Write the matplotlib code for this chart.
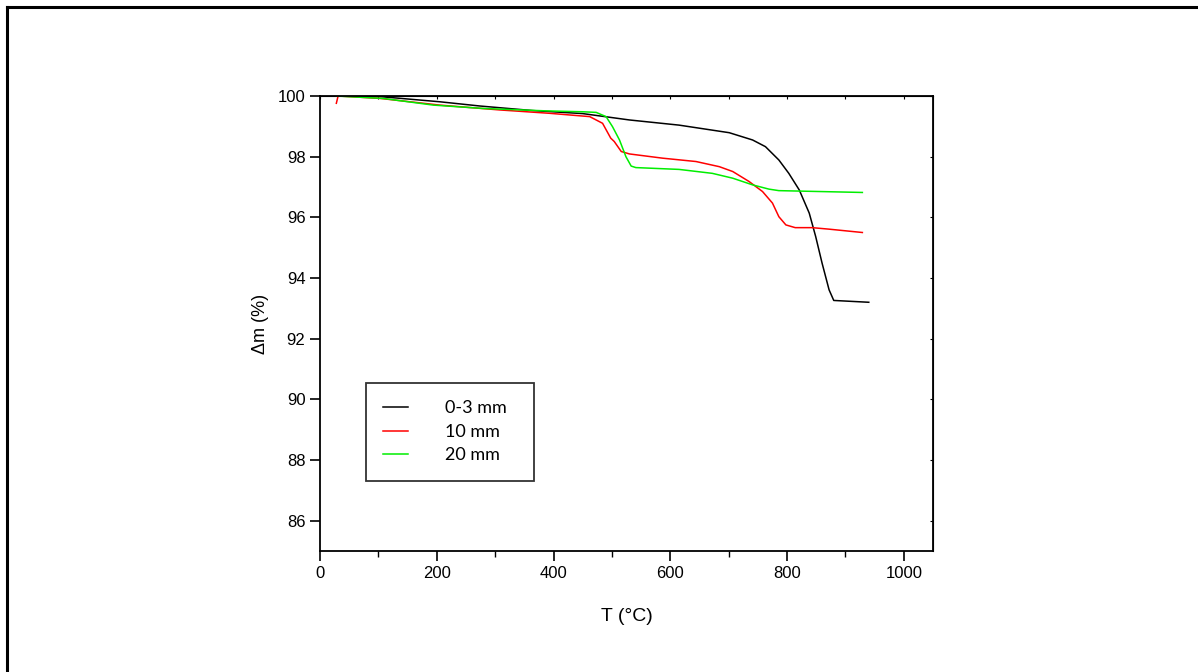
import matplotlib
matplotlib.use("Agg")
import matplotlib.pyplot as plt
from matplotlib.lines import Line2D
from matplotlib.ticker import MultipleLocator

# values (T in degC, mass in %)
t_03 = [28, 103, 205, 274, 364, 450, 530, 615, 701, 741, 763, 786, 803, 821, 838,
        849, 860, 872, 880, 940]
m_03 = [100.0, 99.98, 99.81, 99.67, 99.52, 99.42, 99.21, 99.04, 98.79, 98.55, 98.33,
        97.89, 97.45, 96.90, 96.14, 95.37, 94.49, 93.61, 93.26, 93.20]

t_10 = [28, 31, 50, 103, 205, 308, 393, 462, 484, 498, 504, 516, 530, 587, 644, 684,
        707, 735, 758, 775, 786, 798, 814, 843, 872, 929]
m_10 = [99.76, 100.0, 99.98, 99.92, 99.70, 99.54, 99.43, 99.32, 99.10, 98.61, 98.50,
        98.17, 98.09, 97.95, 97.84, 97.67, 97.51, 97.18, 96.85, 96.47, 96.02, 95.75,
        95.66, 95.66, 95.61, 95.50]

t_20 = [28, 108, 194, 279, 387, 450, 473, 490, 501, 513, 524, 533, 541, 615, 672,
        707, 741, 769, 786, 929]
m_20 = [100.0, 99.92, 99.70, 99.59, 99.51, 99.48, 99.46, 99.32, 98.99, 98.55, 98.00,
        97.69, 97.64, 97.58, 97.45, 97.29, 97.07, 96.93, 96.88, 96.82]

labels = ["0-3 mm", "10 mm", "20 mm"]
colors = ["black", "#ff0000", "#00ee00"]

plt.rcParams["font.family"] = ["Liberation Sans", "DejaVu Sans"]

fig = plt.figure(figsize=(11.98, 6.72), dpi=100)
ax = fig.add_axes([320 / 1198, 1 - 551 / 672, 613 / 1198, 455 / 672])

ax.plot(t_03, m_03, color=colors[0], lw=1.1)
ax.plot(t_10, m_10, color=colors[1], lw=1.1)
ax.plot(t_20, m_20, color=colors[2], lw=1.1)

ax.set_xlim(0, 1050)
ax.set_ylim(85, 100)
ax.xaxis.set_major_locator(MultipleLocator(200))
ax.xaxis.set_minor_locator(MultipleLocator(100))
ax.yaxis.set_major_locator(MultipleLocator(2))
ax.tick_params(axis="both", which="major", direction="out", length=7, width=1.2,
               labelsize=12, top=False, right=False)
ax.tick_params(axis="x", which="minor", direction="out", length=4, width=1)
for s in ax.spines.values():
    s.set_linewidth(1.3)

# tiny ticks on top and right spines
sec_x = ax.secondary_xaxis("top")
sec_x.xaxis.set_major_locator(MultipleLocator(100))
sec_x.tick_params(direction="in", length=2, labeltop=False)
sec_y = ax.secondary_yaxis("right")
sec_y.yaxis.set_major_locator(MultipleLocator(2))
sec_y.tick_params(direction="in", length=2, labelright=False)

ax.set_xlabel("T (°C)", fontsize=14, labelpad=20)
ax.set_ylabel("\u0394m (%)", fontsize=13, labelpad=6)

handles = [Line2D([], [], color=c, lw=1.1) for c in colors]
leg = ax.legend(handles, labels, loc="upper left", bbox_to_anchor=(0.075, 0.369, 0.274, 0.0),
                mode="expand", frameon=True, fancybox=False, edgecolor="black",
                prop={"family": "Lato", "size": 13}, handlelength=1.4, handletextpad=2.0,
                borderpad=0.95, labelspacing=0.42, borderaxespad=0)
leg.get_frame().set_linewidth(1.3)

# figure border (left and top edges visible)
fig.add_artist(Line2D([6.5 / 1198, 6.5 / 1198], [0, 1 - 6.5 / 672], color="black", lw=2.2,
                      transform=fig.transFigure))
fig.add_artist(Line2D([6.5 / 1198, 1], [1 - 6.5 / 672, 1 - 6.5 / 672], color="black", lw=2.2,
                      transform=fig.transFigure))

fig.savefig("out.png", dpi=100)
